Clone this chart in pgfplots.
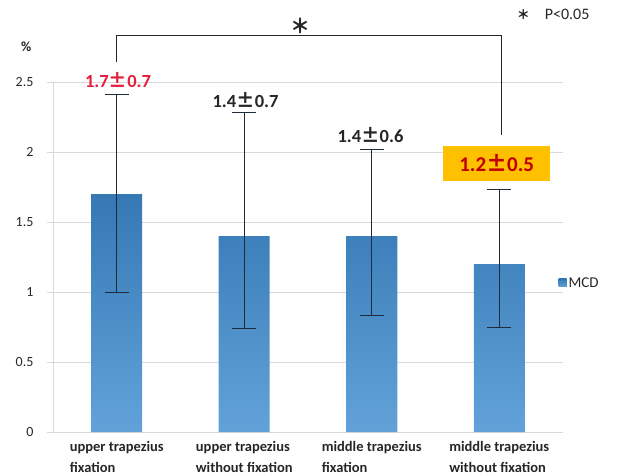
\documentclass[border=0pt]{standalone}
\usepackage{pgfplots}
\pgfplotsset{compat=1.18}
\usepackage{fontspec}
\setmainfont{Carlito}
\newfontfamily\cjk{Noto Sans CJK JP}
\definecolor{bartop}{HTML}{3578B4}
\definecolor{barbot}{HTML}{62A2D9}
\definecolor{gridc}{HTML}{D9D9D9}
\definecolor{txt}{HTML}{262626}
\definecolor{redl}{HTML}{E2203C}
\definecolor{boxo}{HTML}{FFC000}
\definecolor{boxt}{HTML}{C00000}
\definecolor{errc}{HTML}{1F2A3A}
\newcommand{\PM}{{\cjk\bfseries ±}}
\begin{document}
\begin{tikzpicture}
\path[use as bounding box] (-53pt,-43pt) rectangle (582pt,432pt);
\begin{axis}[
  scale only axis,
  width=510pt, height=350pt,
  xmin=-0.5, xmax=3.5, ymin=0, ymax=2.5,
  clip=false,
  axis y line*=left, y axis line style={draw=gridc, line width=0.8pt},
  axis x line*=bottom, x axis line style={draw=gridc, line width=0.8pt},
  axis line style={-},
  ytick={0,0.5,1,1.5,2,2.5},
  yticklabels={0,0.5,1,1.5,2,2.5},
  ytick style={draw=gridc, line width=0.8pt},
  tick align=outside, major tick length=6pt,
  ymajorgrids, grid style={gridc, line width=0.6pt},
  xtick={0,1,2,3},
  xtick style={draw=none},
  xticklabels={{upper trapezius\\fixation},{upper trapezius\\without fixation},{middle trapezius\\fixation},{middle trapezius\\without fixation}},
  xticklabel style={align=left, font=\fontsize{14.5}{21}\selectfont\bfseries, text=txt, yshift=0pt},
  yticklabel style={font=\fontsize{14}{15}\selectfont, text=txt, xshift=-10pt},
  /pgf/number format/assume math mode=true,
  legend style={at={(0.985,0.426)}, anchor=west, draw=none, fill=none,
    nodes={font=\fontsize{15}{16}\selectfont, text=txt}, legend cell align=left},
  legend image code/.code={\fill[bartop] (0pt,-4pt) rectangle (8pt,4pt);},
]
\addplot[ybar, bar width=51pt, draw=none, top color=bartop, bottom color=barbot,
  error bars/.cd, y dir=both, y explicit,
  error bar style={errc, line width=0.7pt},
  error mark options={rotate=90, mark size=12pt, errc, line width=0.7pt}]
coordinates {
 (0,1.7) += (0,0.71) -= (0,0.70)
 (1,1.4) += (0,0.88) -= (0,0.66)
 (2,1.4) += (0,0.62) -= (0,0.57)
 (3,1.2) += (0,0.53) -= (0,0.45)
};
\addlegendentry{MCD}
% annotations
\draw[txt, line width=1pt] (axis cs:0,2.64) -- (axis cs:0,2.83) -- (axis cs:3.02,2.83) -- (axis cs:3.02,2.12);
\node[font=\fontsize{20}{20}\selectfont\cjk\bfseries, text=txt] at (axis cs:1.44,2.9) {＊};
\node[font=\fontsize{13}{13}\selectfont\cjk\bfseries, text=txt] at (axis cs:3.19,2.98) {＊};
\node[font=\fontsize{16}{17}\selectfont, text=txt, anchor=west] at (axis cs:3.33,2.98) {P<0.05};
\node[font=\fontsize{14}{15}\selectfont\bfseries, text=txt] at (axis cs:-0.71,2.75) {\%};
\node[font=\fontsize{18.5}{20}\selectfont\bfseries, text=redl] at (axis cs:0.01,2.515) {1.7\PM0.7};
\node[font=\fontsize{18.5}{20}\selectfont\bfseries, text=txt] at (axis cs:1.01,2.37) {1.4\PM0.7};
\node[font=\fontsize{18.5}{20}\selectfont\bfseries, text=txt] at (axis cs:1.99,2.12) {1.4\PM0.6};
\node[font=\fontsize{21}{22}\selectfont\bfseries, text=boxt, fill=boxo, minimum width=107pt, minimum height=35pt, inner sep=2pt] at (axis cs:2.98,1.92) {1.2\PM0.5};
\end{axis}
\end{tikzpicture}
\end{document}
